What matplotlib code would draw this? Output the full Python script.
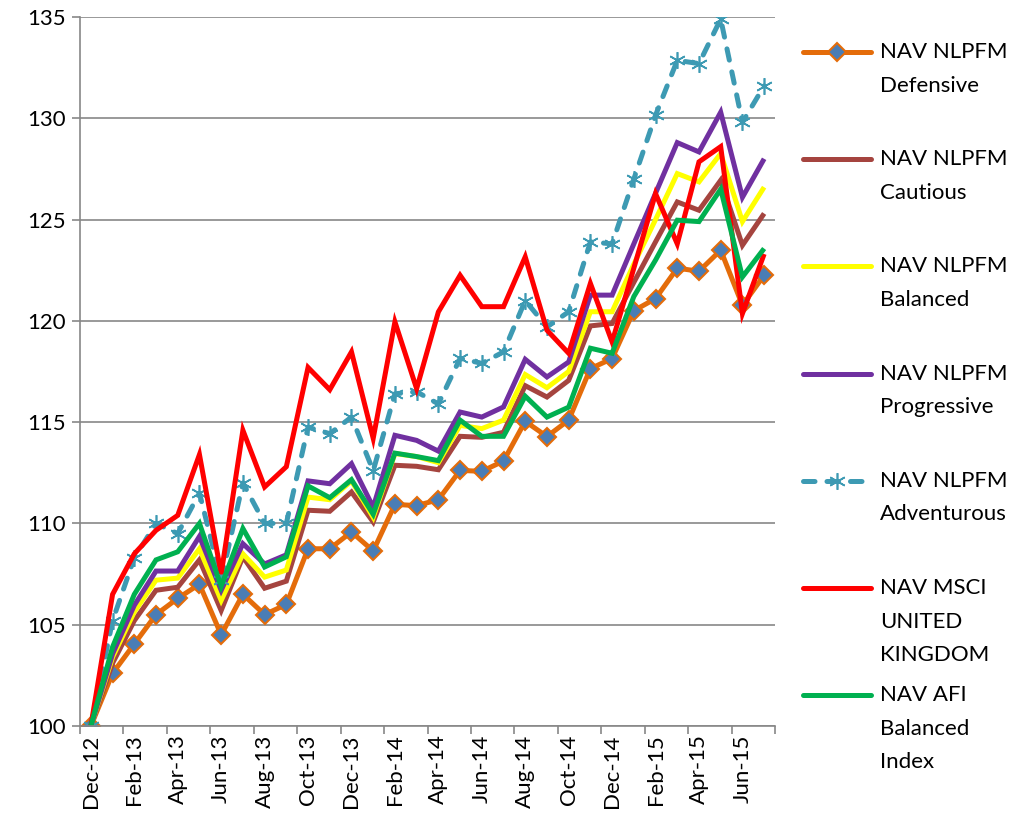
import numpy as np
import matplotlib
matplotlib.use("Agg")
import matplotlib.pyplot as plt
from matplotlib.lines import Line2D

plt.rcParams['font.family'] = ['Lato', 'DejaVu Sans']

# month categories, Dec-12 .. Jul-15
months = ["Dec-12", "Jan-13", "Feb-13", "Mar-13", "Apr-13", "May-13", "Jun-13", "Jul-13",
          "Aug-13", "Sep-13", "Oct-13", "Nov-13", "Dec-13", "Jan-14", "Feb-14", "Mar-14",
          "Apr-14", "May-14", "Jun-14", "Jul-14", "Aug-14", "Sep-14", "Oct-14", "Nov-14",
          "Dec-14", "Jan-15", "Feb-15", "Mar-15", "Apr-15", "May-15", "Jun-15", "Jul-15"]

defensive = [100, 102.6, 104.05, 105.5, 106.3, 107.0, 104.5, 106.5, 105.5, 106.0,
             108.75, 108.75, 109.58, 108.64, 110.94, 110.88, 111.17, 112.62, 112.57, 113.08,
             115.04, 114.29, 115.1, 117.64, 118.14, 120.5, 121.1, 122.6, 122.45, 123.49,
             120.77, 122.25]
cautious = [100, 103.1, 105.2, 106.7, 106.85, 108.2, 105.7, 108.35, 106.8, 107.15,
            110.65, 110.6, 111.55, 110.07, 112.87, 112.82, 112.65, 114.3, 114.25, 114.5,
            116.8, 116.24, 117.06, 119.75, 119.87, 121.9, 123.9, 125.87, 125.46, 126.94,
            123.73, 125.3]
balanced = [100, 103.4, 105.63, 107.2, 107.3, 108.75, 106.2, 108.5, 107.35, 107.7,
            111.3, 111.17, 112.1, 110.3, 113.45, 113.3, 113.0, 114.84, 114.68, 115.1,
            117.35, 116.7, 117.5, 120.45, 120.45, 122.8, 125.0, 127.27, 126.86, 128.26,
            124.9, 126.6]
progressive = [100, 103.56, 105.96, 107.65, 107.65, 109.36, 106.7, 109.0, 108.0, 108.45,
               112.1, 111.96, 112.95, 110.8, 114.35, 114.1, 113.57, 115.5, 115.25, 115.75,
               118.1, 117.23, 117.97, 121.27, 121.27, 123.8, 126.3, 128.8, 128.34, 130.3,
               126.1, 128.0]
adventurous = [100, 105.2, 108.3, 110.0, 109.5, 111.5, 107.2, 112.0, 110.0, 110.0,
               114.75, 114.43, 115.25, 112.6, 116.4, 116.5, 115.9, 118.15, 117.9, 118.47,
               121.0, 119.7, 120.45, 123.9, 123.8, 127.0, 130.15, 132.86, 132.7, 134.9,
               129.8, 131.6]
msci_uk = [100, 106.5, 108.5, 109.66, 110.4, 113.4, 107.5, 114.6, 111.8, 112.8,
           117.7, 116.6, 118.47, 114.2, 119.95, 116.65, 120.44, 122.25, 120.7, 120.7,
           123.16, 119.54, 118.4, 121.85, 118.96, 122.6, 126.28, 123.8, 127.85, 128.6,
           120.36, 123.3]
afi_balanced = [100, 103.9, 106.5, 108.2, 108.6, 110.0, 106.9, 109.75, 107.85, 108.35,
                111.85, 111.27, 112.16, 110.45, 113.47, 113.3, 113.1, 115.1, 114.3, 114.3,
                116.28, 115.25, 115.74, 118.65, 118.4, 121.2, 123.0, 124.97, 124.9, 126.5,
                122.17, 123.57]

labels = ["NAV NLPFM\nDefensive", "NAV NLPFM\nCautious", "NAV NLPFM\nBalanced",
          "NAV NLPFM\nProgressive", "NAV NLPFM\nAdventurous", "NAV MSCI\nUNITED\nKINGDOM",
          "NAV AFI\nBalanced\nIndex"]

ORANGE = "#E46C0A"
DIAMOND = "#4A7DB5"
BROWN = "#A5443F"
YELLOW = "#FFFF00"
PURPLE = "#7030A0"
TEAL = "#3D9AB3"
RED = "#FF0000"
GREEN = "#00B050"
GRID = "#878787"
LW = 3.6

styles = [
    dict(color=ORANGE, marker="D", markersize=9, markerfacecolor=DIAMOND,
         markeredgecolor=ORANGE, markeredgewidth=1.5),
    dict(color=BROWN),
    dict(color=YELLOW),
    dict(color=PURPLE),
    dict(color=TEAL, marker=(6, 2, 0), markersize=12, markeredgewidth=1.2,
         markeredgecolor=TEAL, dashes=(2.3, 2.4), dash_capstyle="round"),
    dict(color=RED),
    dict(color=GREEN),
]
series = [defensive, cautious, balanced, progressive, adventurous, msci_uk, afi_balanced]

fig = plt.figure(figsize=(10.21, 8.21), dpi=100)
ax = fig.add_axes([80 / 1021, 95 / 821, 695 / 1021, 709 / 821])

x = np.arange(len(months))
for vals, st in zip(series, styles):
    ax.plot(x, vals, lw=LW, solid_joinstyle="miter", solid_capstyle="butt", **st)

ax.set_xlim(-0.5, len(months) - 0.5)
ax.set_ylim(100, 135)
ax.set_yticks(np.arange(100, 136, 5))
ax.yaxis.grid(True, color=GRID, lw=1.2)
ax.set_axisbelow(True)

ax.set_xticks(x[::2])
ax.set_xticklabels(months[::2], rotation=90, fontsize=16)
ax.set_xticks(np.arange(-0.5, len(months), 2), minor=True)
ax.tick_params(axis="x", which="major", length=0, pad=6)
ax.tick_params(axis="x", which="minor", length=6, width=1.2, color=GRID, direction="out")
ax.tick_params(axis="y", length=6, width=1.2, color=GRID, labelsize=16, pad=4)

for s in ["top", "right"]:
    ax.spines[s].set_visible(False)
for s in ["left", "bottom"]:
    ax.spines[s].set_color(GRID)
    ax.spines[s].set_linewidth(1.2)

# legend drawn by hand, Excel style fixed pitch per entry
W, H = 1021.0, 821.0
for k, (lab, st) in enumerate(zip(labels, styles)):
    py = 52 + 107.2 * k
    fy = 1 - py / H
    kw = dict(color=st["color"], lw=LW, transform=fig.transFigure, solid_capstyle="round")
    if "dashes" in st:
        kw.update(dashes=st["dashes"], dash_capstyle="round")
    fig.add_artist(Line2D([803 / W, 871 / W], [fy, fy], **kw))
    if "marker" in st:
        fig.add_artist(Line2D([837 / W], [fy], ls="none", marker=st["marker"],
                              markersize=st["markersize"],
                              markerfacecolor=st.get("markerfacecolor", st["color"]),
                              markeredgecolor=st["markeredgecolor"],
                              markeredgewidth=st["markeredgewidth"],
                              transform=fig.transFigure))
    fig.text(880 / W, 1 - (py - 10) / H, lab, fontsize=16, va="top", ha="left",
             linespacing=1.85)

fig.savefig("out.png", dpi=100)
